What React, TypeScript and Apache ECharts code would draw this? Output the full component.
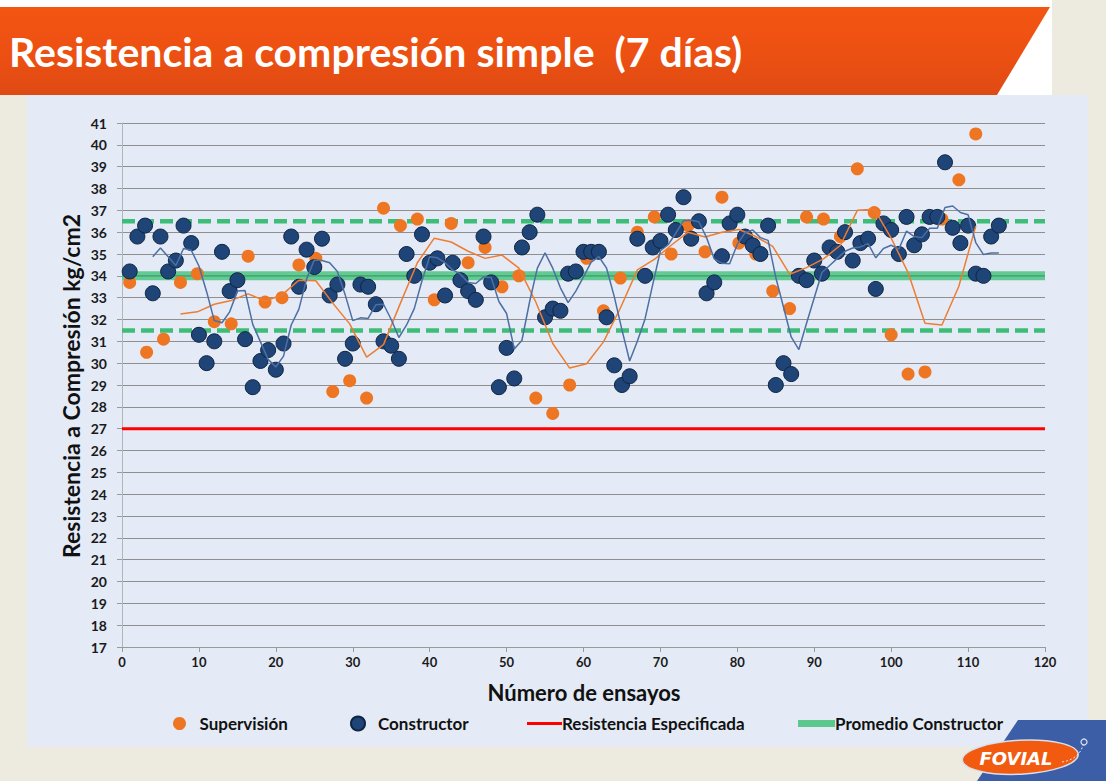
import React, { useEffect, useRef } from "react";
import * as echarts from "echarts";

// ---- Data ----
const supervisionX = [
  1, 3.2, 5.4, 7.6, 9.8, 12, 14.2, 16.4, 18.6, 20.8, 23, 25.2, 27.4, 29.6, 31.8, 34, 36.2,
  38.4, 40.6, 42.8, 45, 47.2, 49.4, 51.6, 53.8, 56, 58.2, 60.4, 62.6, 64.8, 67, 69.2, 71.4,
  73.6, 75.8, 78, 80.2, 82.4, 84.6, 86.8, 89, 91.2, 93.4, 95.6, 97.8, 100, 102.2, 104.4,
  106.6, 108.8, 111,
];
const supervisionY = [
  33.7, 30.5, 31.1, 33.7, 34.1, 31.9, 31.8, 34.9, 32.8, 33.0, 34.5, 34.8, 28.7, 29.2, 28.4,
  37.1, 36.3, 36.6, 32.9, 36.4, 34.6, 35.3, 33.5, 34.0, 28.4, 27.7, 29.0, 34.8, 32.4, 33.9,
  36.0, 36.7, 35.0, 36.3, 35.1, 37.6, 35.5, 35.0, 33.3, 32.5, 36.7, 36.6, 35.8, 38.9, 36.9,
  31.3, 29.5, 29.6, 36.6, 38.4, 40.5,
];
const constructorX = [
  1, 2, 3, 4, 5, 6, 7, 8, 9, 10, 11, 12, 13, 14, 15, 16, 17, 18, 19, 20, 21, 22, 23, 24, 25,
  26, 27, 28, 29, 30, 31, 32, 33, 34, 35, 36, 37, 38, 39, 40, 41, 42, 43, 44, 45, 46, 47, 48,
  49, 50, 51, 52, 53, 54, 55, 56, 57, 58, 59, 60, 61, 62, 63, 64, 65, 66, 67, 68, 69, 70, 71,
  72, 73, 74, 75, 76, 77, 78, 79, 80, 81, 82, 83, 84, 85, 86, 87, 88, 89, 90, 91, 92, 93, 94,
  95, 96, 97, 98, 99, 100, 101, 102, 103, 104, 105, 106, 107, 108, 109, 110, 111, 112, 113, 114,
];
const constructorY = [
  34.2, 35.8, 36.3, 33.2, 35.8, 34.2, 34.7, 36.3, 35.5, 31.3, 30.0, 31.0, 35.1, 33.3, 33.8,
  31.1, 28.9, 30.1, 30.6, 29.7, 30.9, 35.8, 33.5, 35.2, 34.4, 35.7, 33.1, 33.6, 30.2, 30.9,
  33.6, 33.5, 32.7, 31.0, 30.8, 30.2, 35.0, 34.0, 35.9, 34.6, 34.8, 33.1, 34.6, 33.8, 33.3,
  32.9, 35.8, 33.7, 28.9, 30.7, 29.3, 35.3, 36.0, 36.8, 32.1, 32.5, 32.4, 34.1, 34.2, 35.1,
  35.1, 35.1, 32.1, 29.9, 29.0, 29.4, 35.7, 34.0, 35.3, 35.6, 36.8, 36.1, 37.6, 35.7, 36.5,
  33.2, 33.7, 34.9, 36.4, 36.8, 35.8, 35.4, 35.0, 36.3, 29.0, 30.0, 29.5, 34.0, 33.8, 34.7,
  34.1, 35.3, 35.1, 36.0, 34.7, 35.5, 35.7, 33.4, 36.4, 36.1, 35.0, 36.7, 35.4, 35.9, 36.7,
  36.7, 39.2, 36.2, 35.5, 36.3, 34.1, 34.0, 35.8, 36.3,
];
const resistenciaEspecificada = 27;
const promedioConstructor = 34.0;
const limiteSuperior = 36.5;
const limiteInferior = 31.5;
const xRange = [0, 120];
const yRange = [17, 41];
const trendPeriod = 4; // Excel "moving average" trendline period, as seen in the chart

// Excel-style moving-average trendline of a read series
function movingAverage(xs: number[], ys: number[], period: number) {
  const out: number[][] = [];
  for (let i = period - 1; i < ys.length; i++) {
    let s = 0;
    for (let k = i - period + 1; k <= i; k++) s += ys[k];
    out.push([xs[i], +(s / period).toFixed(3)]);
  }
  return out;
}

const FONT = "Lato, 'Open Sans', sans-serif";

export default function App() {
  const ref = useRef<HTMLDivElement>(null);

  useEffect(() => {
    if (!ref.current) return;
    const chart = echarts.init(ref.current, undefined, { renderer: "svg" });

    const supData = supervisionX.map((x, i) => [x, supervisionY[i]]);
    const conData = constructorX.map((x, i) => [x, constructorY[i]]);
    const hLine = (v: number) => [
      [xRange[0], v],
      [xRange[1], v],
    ];

    const legendText = { fontFamily: FONT, fontWeight: "bold" as const, fontSize: 17, color: "#111" };

    chart.setOption({
      animation: false,
      backgroundColor: "#EDEAE0",
      grid: { left: 122, right: 61, top: 123, bottom: 134, containLabel: false },
      legend: [
        {
          data: [{ name: "Supervisión", icon: "circle" }],
          left: 168,
          top: 710,
          itemWidth: 30,
          itemHeight: 13,
          textStyle: legendText,
          selectedMode: false,
        },
        {
          data: [{ name: "Constructor", icon: "circle" }],
          left: 345,
          top: 710,
          itemWidth: 30,
          itemHeight: 14,
          textStyle: legendText,
          selectedMode: false,
        },
        {
          data: [{ name: "Resistencia Especificada", icon: "rect" }],
          left: 522,
          top: 710,
          itemWidth: 35,
          itemHeight: 3,
          textStyle: { ...legendText, padding: [0, 0, 0, -5] },
          selectedMode: false,
        },
        {
          data: [{ name: "Promedio Constructor", icon: "rect" }],
          left: 793,
          top: 710,
          itemWidth: 37,
          itemHeight: 7,
          textStyle: { ...legendText, padding: [0, 0, 0, -5] },
          selectedMode: false,
        },
      ],
      xAxis: {
        type: "value",
        min: xRange[0],
        max: xRange[1],
        interval: 10,
        axisLine: { show: true, lineStyle: { color: "#9a9a9a", width: 1 } },
        axisTick: { show: true, length: 5, lineStyle: { color: "#9a9a9a" } },
        axisLabel: { fontFamily: FONT, fontWeight: "bold", fontSize: 13, color: "#1a1a1a", margin: 8 },
        splitLine: { show: false },
      },
      yAxis: {
        type: "value",
        min: yRange[0],
        max: yRange[1],
        interval: 1,
        axisLine: { show: true, lineStyle: { color: "#b5b5b5", width: 1 } },
        axisTick: { show: true, length: 5, lineStyle: { color: "#9a9a9a" } },
        axisLabel: { fontFamily: FONT, fontWeight: "bold", fontSize: 14, color: "#1a1a1a", margin: 15 },
        splitLine: { show: true, lineStyle: { color: "#8f8f8f", width: 1.2 } },
      },
      graphic: [
        { type: "rect", z: -20, shape: { x: 0, y: 0, width: 1052, height: 95 }, style: { fill: "#ffffff" } },
        {
          type: "polygon",
          z: -19,
          shape: { points: [[0, 7], [1050, 7], [997, 95], [0, 95]] },
          style: {
            fill: new echarts.graphic.LinearGradient(0, 0, 0, 1, [
              { offset: 0, color: "#F35512" },
              { offset: 0.55, color: "#EC5012" },
              { offset: 1, color: "#DF4A14" },
            ]),
          },
        },
        {
          type: "text",
          z: 5,
          style: {
            text: "Resistencia a compresión simple  (7 días)",
            x: 9,
            y: 51,
            fill: "#ffffff",
            fontFamily: FONT,
            fontWeight: "bold",
            fontSize: 41,
            verticalAlign: "middle",
          },
        },
        { type: "rect", z: -18, shape: { x: 27, y: 95, width: 1061, height: 652 }, style: { fill: "#E4EBF6" } },
        {
          type: "polygon",
          z: 5,
          shape: { points: [[1018, 720], [1106, 720], [1106, 781], [977, 781]] },
          style: { fill: "#3B5EA7" },
        },
        {
          type: "ellipse",
          z: 6,
          shape: { cx: 1020, cy: 757, rx: 58, ry: 17 },
          originX: 1020,
          originY: 757,
          rotation: 0.05,
          style: { fill: "#F25A0F", stroke: "#d8e0ef", lineWidth: 1.5 },
        },
        {
          type: "bezierCurve",
          z: 6,
          shape: { x1: 1062, y1: 762, x2: 1083, y2: 744, cpx1: 1075, cpy1: 760, cpx2: 1082, cpy2: 752 },
          style: { stroke: "#dfe7f5", lineWidth: 1, fill: null, lineDash: [2, 2] },
        },
        {
          type: "circle",
          z: 6,
          shape: { cx: 1084, cy: 742, r: 3 },
          style: { fill: "none", stroke: "#dfe7f5", lineWidth: 1.2 },
        },
        {
          type: "text",
          z: 7,
          style: {
            text: "FOVIAL",
            x: 1016,
            y: 758,
            fill: "#ffffff",
            fontFamily: "'DejaVu Sans', sans-serif",
            fontWeight: "bold",
            fontStyle: "italic",
            fontSize: 18,
            align: "center",
            verticalAlign: "middle",
          },
        },
        {
          type: "text",
          z: 5,
          style: {
            text: "Número de ensayos",
            x: 584,
            y: 692,
            fill: "#111",
            fontFamily: FONT,
            fontWeight: "bold",
            fontSize: 22,
            align: "center",
            verticalAlign: "middle",
          },
        },
        {
          type: "text",
          z: 5,
          x: 71,
          y: 386,
          rotation: Math.PI / 2,
          style: {
            text: "Resistencia a Compresión kg/cm2",
            x: 0,
            y: 0,
            fill: "#111",
            fontFamily: FONT,
            fontWeight: "bold",
            fontSize: 23,
            align: "center",
            verticalAlign: "middle",
          },
        },
      ],
      series: [
        {
          name: "Supervisión",
          type: "scatter",
          data: supData,
          symbol: "circle",
          symbolSize: 13,
          z: 6,
          itemStyle: { color: "#EE7623", opacity: 1 },
        },
        {
          name: "Constructor",
          type: "scatter",
          data: conData,
          symbol: "circle",
          symbolSize: 15,
          z: 7,
          itemStyle: { color: "#1E4478", borderColor: "#0f2440", borderWidth: 1, opacity: 1 },
        },
        {
          name: "Resistencia Especificada",
          type: "line",
          data: hLine(resistenciaEspecificada),
          showSymbol: false,
          symbol: "none",
          z: 3,
          itemStyle: { color: "#FF0000" },
          lineStyle: { color: "#FF0000", width: 3 },
        },
        {
          name: "Promedio Constructor",
          type: "line",
          data: hLine(promedioConstructor),
          showSymbol: false,
          symbol: "none",
          z: 3,
          itemStyle: { color: "#5CC88E" },
          lineStyle: { color: "#5CC88E", width: 9, opacity: 0.95 },
        },
        {
          name: "promedio-centro",
          type: "line",
          data: hLine(promedioConstructor),
          showSymbol: false,
          symbol: "none",
          z: 3,
          lineStyle: { color: "#3C9E6A", width: 1.3 },
        },
        {
          name: "limite-superior",
          type: "line",
          data: hLine(limiteSuperior),
          showSymbol: false,
          symbol: "none",
          z: 3,
          lineStyle: { color: "#3DBD78", width: 4.5, type: [13, 6] },
        },
        {
          name: "limite-inferior",
          type: "line",
          data: hLine(limiteInferior),
          showSymbol: false,
          symbol: "none",
          z: 3,
          lineStyle: { color: "#3DBD78", width: 4.5, type: [13, 6] },
        },
        {
          name: "Media móvil Supervisión",
          type: "line",
          data: movingAverage(supervisionX, supervisionY, trendPeriod),
          showSymbol: false,
          symbol: "none",
          z: 8,
          lineStyle: { color: "#EE7D31", width: 1.5 },
        },
        {
          name: "Media móvil Constructor",
          type: "line",
          data: movingAverage(constructorX, constructorY, trendPeriod),
          showSymbol: false,
          symbol: "none",
          z: 8,
          lineStyle: { color: "#4D6FA3", width: 1.5 },
        },
      ],
    });

    return () => chart.dispose();
  }, []);

  return (
    <div
      ref={ref}
      style={{ position: "absolute", left: 0, top: 0, width: 1106, height: 781 }}
    />
  );
}
